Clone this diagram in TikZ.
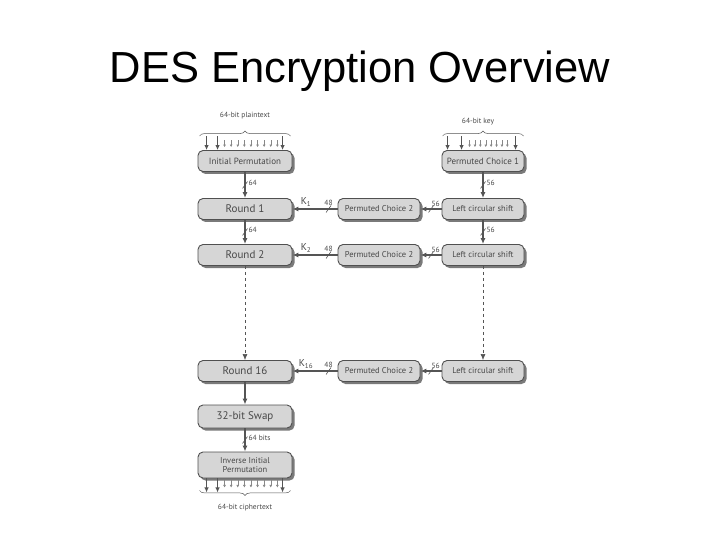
\documentclass[tikz,border=0pt]{standalone}
\usepackage{fontspec}
\setmainfont{Liberation Sans}
\newfontfamily\diagfont{PT Sans}
\usetikzlibrary{arrows.meta,shadows,decorations.pathreplacing}
\definecolor{boxfill}{HTML}{D6D6D6}
\definecolor{boxline}{HTML}{505050}
\definecolor{shade}{HTML}{7A7A7A}
\definecolor{ink}{HTML}{484848}
\definecolor{wire}{HTML}{555555}
\tikzset{>=Latex,
  block/.style={draw=boxline,line width=.9pt,fill=boxfill,rounded corners=5pt,
    minimum height=21pt,inner sep=1pt,align=center,text=ink,
    drop shadow={shadow xshift=2.5pt,shadow yshift=-2.5pt,fill=shade,opacity=1}},
  wide/.style={block,minimum width=94pt,font=\diagfont\fontsize{11}{12}\selectfont},
  narrow/.style={block,minimum width=82pt,font=\diagfont\fontsize{8.5}{9.5}\selectfont},
  flow/.style={draw=wire,line width=1.2pt,-{Latex[length=6pt,width=5pt]}},
  thread/.style={draw=wire,line width=.6pt,dashed,-{Latex[length=6pt,width=5pt]}},
  wirein/.style={draw=wire,line width=1.2pt,-{Latex[length=5pt,width=4.5pt]}},
  bitin/.style={draw=wire!70,line width=.5pt,-{Latex[length=2.5pt,width=3pt]}},
  brace/.style={draw=wire,line width=.5pt,decorate,decoration={brace,amplitude=5pt}},
  buslabel/.style={text=ink,inner sep=1pt,font=\diagfont\fontsize{7.5}{8}\selectfont},
  klabel/.style={text=ink,inner sep=1pt,font=\diagfont\fontsize{10}{11}\selectfont},
  busmark/.pic={\draw[-,solid,draw=wire,line width=.6pt] (-2.5,3.5) -- (2.5,-3.5);}}
\begin{document}
\begin{tikzpicture}[x=1pt,y=-1pt]
\useasboundingbox (0,0) rectangle (720,540);
\node[font=\fontsize{43.5}{50}\selectfont,anchor=base] (title) at (360,83) {DES Encryption Overview};
% key schedule and rounds
\node[wide,font=\diagfont\fontsize{9}{10}\selectfont] (ip) at (245,161) {Initial Permutation};
\node[narrow,font=\diagfont\fontsize{9}{10}\selectfont] (pcone) at (483,161) {Permuted Choice 1};
\foreach \r/\yy in {1/209,2/255,16/371}{
  \node[wide] (round\r) at (245,\yy) {Round \r};
  \node[narrow] (pctwo\r) at (379,\yy) {Permuted Choice 2};
  \node[narrow] (shift\r) at (483,\yy) {Left circular shift};
  \draw[flow] (shift\r) -- pic{busmark} node[buslabel,anchor=south west,xshift=-1pt,yshift=1pt]{56} (pctwo\r);
  \draw[flow] (pctwo\r) -- pic[pos=.2]{busmark} node[buslabel,pos=.2,anchor=south,yshift=2pt]{48}
    node[klabel,pos=.7,anchor=south,yshift=1pt]{K\textsubscript{\r}} (round\r);
}
\node[wide] (swap) at (245,416.5) [minimum height=23pt] {32-bit Swap};
\node[wide,font=\diagfont\fontsize{8.5}{9.5}\selectfont,minimum height=26pt] (inv) at (245,465) {Inverse Initial\\Permutation};
\draw[flow] (ip) -- pic{busmark} node[buslabel,anchor=west,xshift=2pt,yshift=2pt]{64} (round1);
\draw[flow] (round1) -- pic{busmark} node[buslabel,anchor=west,xshift=2pt,yshift=2pt]{64} (round2);
\draw[thread] (round2) -- (round16);
\draw[flow] (round16) -- (swap);
\draw[flow] (swap) -- pic{busmark} node[buslabel,anchor=west,xshift=2pt,yshift=2pt]{64 bits} (inv);
\draw[flow] (pcone) -- pic{busmark} node[buslabel,anchor=west,xshift=2pt,yshift=2pt]{56} (shift1);
\draw[flow] (shift1) -- pic{busmark} node[buslabel,anchor=west,xshift=2pt,yshift=2pt]{56} (shift2);
\draw[thread] (shift2) -- (shift16);
% 64 input and output wires
\node[buslabel] (ptext) at (245,116) {64-bit plaintext};
\node[buslabel] (keytext) at (478,122) {64-bit key};
\node[buslabel] (ctext) at (245,508) {64-bit ciphertext};
\draw[brace] ([xshift=2,yshift=14]ip.north west) -- ([xshift=-2,yshift=14]ip.north east);
\draw[brace] ([xshift=1,yshift=14]pcone.north west) -- ([xshift=-1,yshift=14]pcone.north east);
\draw[brace] ([xshift=-2,yshift=-12]inv.south east) -- ([xshift=2,yshift=-12]inv.south west);
\foreach \dx in {9,20,85}{
  \draw[wirein] ([xshift=\dx,yshift=14]ip.north west) -- ([xshift=\dx]ip.north west);
  \draw[wirein] ([xshift=\dx]inv.south west) -- ([xshift=\dx,yshift=-14]inv.south west);}
\foreach \k in {0,...,8}{
  \draw[bitin] ([xshift={27+6.6*\k},yshift=10]ip.north west) -- ([xshift={27+6.6*\k},yshift=3]ip.north west);
  \draw[bitin] ([xshift={27+6.6*\k},yshift=-2]inv.south west) -- ([xshift={27+6.6*\k},yshift=-9]inv.south west);}
\foreach \dx in {6,20,74}{
  \draw[wirein] ([xshift=\dx,yshift=14]pcone.north west) -- ([xshift=\dx]pcone.north west);}
\foreach \k in {0,...,7}{
  \draw[bitin] ([xshift={28+5.4*\k},yshift=10]pcone.north west) -- ([xshift={28+5.4*\k},yshift=3]pcone.north west);}
\end{tikzpicture}
\end{document}
